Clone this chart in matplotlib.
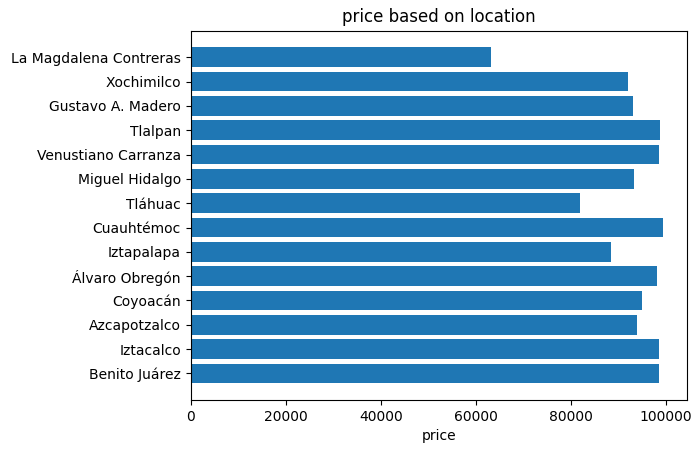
import matplotlib
matplotlib.use("Agg")
import matplotlib.pyplot as plt

locations = ["Benito Juárez", "Iztacalco", "Azcapotzalco", "Coyoacán", "Álvaro Obregón",
             "Iztapalapa", "Cuauhtémoc", "Tláhuac", "Miguel Hidalgo", "Venustiano Carranza",
             "Tlalpan", "Gustavo A. Madero", "Xochimilco", "La Magdalena Contreras"]
prices = [98500, 98500, 94000, 94900, 98100, 88500, 99500, 82000, 93400, 98500,
          98700, 93200, 92100, 63200]

fig = plt.figure(figsize=(7, 4.53), dpi=100)
ax = fig.add_axes([190.7/700, 1 - 400/453, (687-190.7)/700, (400-30.7)/453])
ax.barh(locations, prices, color="#1f77b4")
ax.set_title("price based on location")
ax.set_xlabel("price")
fig.savefig("out.png", dpi=100)
